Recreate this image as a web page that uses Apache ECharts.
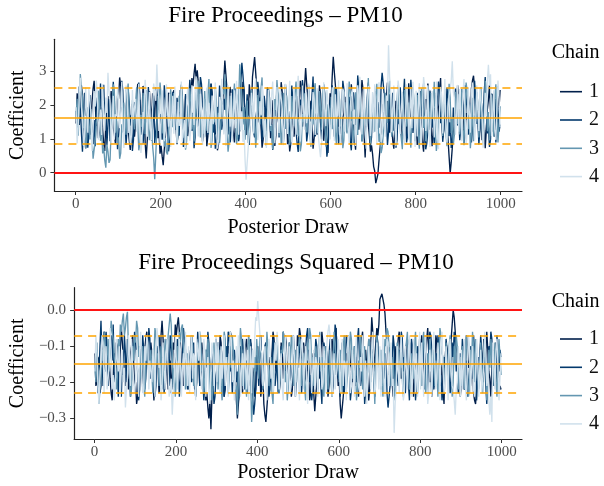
<!DOCTYPE html>
<html><head><meta charset="utf-8">
<script src="https://cdn.jsdelivr.net/npm/echarts@6/dist/echarts.min.js"></script>
<style>html,body{margin:0;padding:0;background:#fff}#c{width:604px;height:486px}</style>
</head><body><div id="c"></div>
<script>
// Posterior draw positions of the plotted samples (every 2.5 draws of 1000)
const draws = Array.from({length:400},(_,i)=>1+2.5*i);
const chainNames = ['1','2','3','4'];
const chainColors = ['#011f4b','#03396c','#6497b1','#d1e1ec'];
const xTicks = [0,200,400,600,800,1000];
const topTicks = [0,1,2,3];
const sqTicks = [-0.3,-0.2,-0.1,0.0];
// reference lines: [lower 95%, mean, upper 95%]
const topBands = [0.84,1.634,2.52];
const sqBands = [-0.226,-0.146,-0.067];
const zeroLine = 0;
const titles = ['Fire Proceedings \u2013 PM10','Fire Proceedings Squared \u2013 PM10'];

// ---- Fire Proceedings (linear term) ----
const c1Top = [1.45,2.34,2.12,1.41,1.63,2.58,2.31,1.52,1.18,0.72,0.91,1.36,1.74,1.12,1.38,2.09,2.48,2.71,2.06,1.38,1.57,1.02,1.21,1.78,1.92,1.26,0.88,0.64,1.49,1.97,2.26,1.58,1.71,2.41,2.02,1.33,1.14,0.86,1.66,2.27,
2.18,2.81,2.57,1.96,1.83,1.14,1.36,2.45,2.02,1.29,0.96,0.67,1.28,2.03,1.81,1.06,1.44,2.23,2.62,2.04,2.15,1.38,1.69,2.56,2.27,0.88,0.42,0.97,1.52,2.41,1.93,1.48,2.34,1.89,1.61,2.52,1.87,1.02,1.23,0.56,
0.79,0.48,0.22,0.69,1.05,1.67,1.58,2.36,2.11,1.45,1.72,2.09,2.44,1.83,1.36,0.84,1.15,1.62,1.84,2.58,2.19,1.21,1.47,2.27,1.96,1.08,1.33,1.87,2.14,2.79,2.55,2.92,3.21,2.74,3.02,2.66,2.31,1.37,1.64,0.92,
1.28,2.17,1.92,0.78,1.07,1.84,1.53,2.62,2.38,1.44,1.79,1.13,1.41,0.66,0.83,1.27,1.62,2.35,2.01,2.72,3.31,2.87,2.46,1.64,1.88,2.53,2.24,1.47,1.19,0.89,1.56,2.31,2.07,0.98,1.31,1.72,1.96,2.68,2.43,1.36,
1.11,2.05,1.68,2.61,2.29,1.94,2.83,3.12,3.41,2.96,2.52,1.48,1.73,2.22,1.38,0.74,0.97,1.56,1.91,1.23,1.54,2.47,2.21,1.02,1.26,2.14,1.83,0.79,1.09,2.28,1.62,1.37,2.04,2.67,2.38,1.18,1.45,2.35,1.98,0.84,
1.17,0.63,0.86,1.42,1.61,1.06,1.34,2.07,2.26,1.58,1.92,2.71,2.49,1.36,1.72,2.54,3.09,2.61,2.23,1.59,1.83,2.12,1.37,0.71,1.02,1.51,1.74,1.12,1.46,2.58,2.33,1.66,1.87,0.94,1.29,1.81,0.92,0.58,1.55,2.34,
2.12,2.83,3.42,2.97,2.58,2.18,1.95,1.36,1.58,0.87,1.13,1.62,1.76,2.24,1.41,1.93,2.28,1.49,1.84,2.61,2.17,1.34,0.99,0.68,1.52,1.96,1.27,1.71,2.11,2.73,2.46,1.12,0.45,1.24,1.93,1.42,1.08,0.62,0.81,0.55,
0.18,0.05,-0.31,-0.18,-0.04,0.35,0.72,1.04,1.26,2.02,1.81,1.43,2.24,2.66,1.52,1.18,1.92,1.37,0.94,0.71,1.39,2.12,1.75,2.54,2.37,1.89,1.63,0.96,1.21,2.33,1.97,1.07,1.48,2.64,2.09,1.63,2.51,2.19,1.78,1.24,
1.55,0.82,1.16,1.74,2.03,1.39,0.89,0.62,1.34,2.17,1.86,2.63,2.31,1.27,1.64,0.78,1.07,1.91,1.45,2.36,2.01,1.62,2.42,2.79,1.71,1.04,1.26,2.08,1.88,1.43,0.98,0.47,-0.02,0.31,0.74,1.15,1.38,2.07,1.83,2.58,
2.26,1.82,1.59,2.41,1.89,0.87,1.11,1.76,1.57,2.29,2.04,1.61,2.49,2.72,2.86,2.47,2.18,1.53,1.85,1.02,1.33,2.06,0.96,1.38,1.64,0.72,1.24,1.87,2.15,2.58,1.78,1.21,2.31,1.67,1.06,2.18,1.49,2.55,1.92,2.44];
const c2Top = [1.82,1.37,1.24,2.54,2.01,1.18,0.62,1.47,2.36,1.68,1.93,0.74,1.12,2.29,1.68,1.21,0.84,1.55,0.78,1.86,2.22,1.43,1.79,2.63,1.35,1.92,2.59,1.62,1.98,0.81,1.41,2.17,0.93,1.49,1.76,2.68,2.14,1.07,1.52,0.69,
1.09,1.58,1.86,2.71,2.42,1.27,1.65,0.82,1.28,2.46,2.07,1.39,1.71,0.64,0.97,2.08,1.43,1.92,1.88,2.66,2.31,1.12,1.54,0.86,1.17,2.37,1.96,1.48,2.53,2.12,1.82,0.94,1.36,2.28,0.88,1.21,1.61,2.47,2.09,1.33,
1.73,0.97,1.34,2.58,2.26,1.84,1.49,0.63,0.91,1.24,1.58,2.39,2.03,1.52,1.26,2.21,1.87,1.09,2.44,2.07,1.66,0.76,1.18,2.32,1.92,1.41,1.39,2.74,2.35,1.23,1.77,0.72,1.05,2.13,1.64,1.36,2.17,2.82,2.61,1.97,
1.84,1.06,1.42,2.24,1.13,1.71,1.96,2.63,2.27,1.18,1.53,0.71,0.98,1.94,1.71,2.57,2.12,1.27,1.46,2.18,1.85,2.71,2.38,1.13,1.69,0.89,1.22,2.46,1.93,1.56,2.48,2.02,1.81,0.93,1.35,2.64,3.24,2.88,2.42,1.58,
1.76,2.31,1.29,0.82,2.05,2.44,1.62,1.21,1.04,1.57,1.83,2.68,2.39,1.49,1.71,0.96,1.26,2.27,1.95,1.38,2.52,2.09,1.88,1.19,1.43,0.67,0.94,1.88,1.67,2.53,2.18,1.04,1.54,2.36,1.97,0.88,1.31,2.61,2.23,1.46,
1.81,1.04,1.36,2.57,2.12,1.73,1.58,1.22,0.87,0.61,1.44,2.16,1.99,2.73,2.41,1.36,1.73,0.92,1.19,2.42,1.88,1.51,2.29,2.84,1.64,1.07,1.21,1.68,2.03,2.39,1.51,0.98,1.76,2.61,2.34,1.27,0.47,0.72,1.28,2.14,
1.92,2.58,1.45,1.06,2.18,2.49,1.69,0.84,1.12,1.47,1.83,2.71,2.46,1.63,1.94,1.19,1.37,2.24,0.92,0.66,1.56,2.37,2.08,1.41,1.73,2.87,2.51,2.12,1.86,0.93,1.29,2.03,1.64,1.18,2.21,2.66,1.48,0.79,1.05,1.87,
1.61,2.41,2.14,1.29,1.77,2.08,1.33,2.56,2.95,2.63,2.28,1.47,1.69,0.82,1.18,2.31,1.84,1.96,2.36,1.24,1.52,0.74,0.97,1.86,1.43,2.52,1.96,1.31,2.24,2.77,1.58,0.89,1.11,1.58,1.87,2.74,2.32,1.17,1.66,0.93,
1.23,2.36,1.78,1.09,2.41,1.67,1.92,2.63,1.37,0.69,0.86,1.21,1.54,2.42,2.07,1.33,1.68,0.87,1.14,2.28,1.95,2.69,2.46,1.46,1.81,0.91,1.28,2.19,1.72,2.51,2.19,1.08,1.49,0.73,1.02,1.92,1.63,2.48,2.11,1.39,
1.74,0.96,1.31,2.47,2.03,1.62,2.58,2.21,1.86,1.12,1.42,2.06,0.89,1.28,1.57,2.71,2.13,1.44,1.69,0.83,1.25,2.19,1.84,1.51,2.37,2.82,1.93,1.16,1.38,0.76,0.99,2.34,1.62,1.41,2.06,0.89,1.47,1.94,1.21,1.42];
const c3Top = [1.71,2.18,1.09,1.92,2.91,2.47,2.23,1.31,1.56,0.72,0.97,1.86,1.42,0.98,1.88,1.06,0.41,0.69,0.92,1.48,1.63,2.42,2.17,0.94,1.35,0.57,0.74,0.36,0.15,0.83,0.62,0.29,0.38,1.27,1.94,2.61,2.38,1.18,1.61,0.84,
1.04,0.41,0.58,1.43,1.19,2.07,1.84,1.12,2.29,2.63,1.73,0.91,1.16,2.14,1.57,1.28,2.06,2.52,1.48,0.66,0.87,1.71,1.35,2.36,1.92,1.14,2.44,2.08,1.68,0.96,1.22,1.59,0.79,0.44,-0.19,0.52,1.31,2.27,1.86,2.66,
2.27,1.16,1.59,0.77,1.03,0.61,0.54,1.12,1.41,2.46,1.97,1.34,2.35,1.88,1.62,0.86,1.18,2.27,1.79,2.61,2.24,1.03,1.46,0.68,0.93,1.94,1.51,2.49,2.08,1.28,1.74,0.92,1.26,2.37,1.89,2.72,2.41,1.04,1.67,1.46,
1.15,2.41,1.83,1.24,2.32,2.76,1.54,0.73,0.96,1.87,1.48,2.53,2.11,1.19,1.77,0.88,1.29,2.04,2.45,2.31,2.90,1.87,1.31,0.62,0.91,2.27,1.65,1.36,2.19,2.63,1.58,0.85,1.07,2.12,3.20,2.71,2.27,1.42,1.94,0.97,
1.46,2.13,0.88,1.31,1.52,2.44,2.06,1.16,1.63,0.74,1.17,2.29,1.94,1.42,2.49,2.81,1.78,1.07,1.24,0.79,1.69,2.48,2.15,1.23,1.41,0.69,0.98,2.17,1.85,2.73,2.32,1.09,1.66,0.83,1.21,2.36,1.75,1.29,2.28,1.57,
1.62,0.81,1.14,2.26,1.79,1.37,2.37,2.69,1.83,1.08,1.26,0.63,0.84,1.73,1.49,2.34,2.02,1.19,1.57,2.57,1.12,0.76,1.86,1.42,2.43,2.64,1.78,1.17,1.33,2.41,1.95,1.27,2.21,2.58,1.54,0.77,1.09,2.02,1.68,1.21,
2.24,1.28,1.71,2.52,1.19,0.83,1.65,2.41,2.13,1.36,1.58,0.72,0.96,2.08,1.47,1.16,1.93,2.69,2.39,1.52,1.81,0.88,1.24,2.37,1.76,1.11,2.28,2.59,1.63,0.92,1.09,2.24,1.52,1.38,2.05,2.79,1.59,0.86,1.32,2.04,
1.87,1.21,2.33,2.62,1.68,0.91,1.15,0.58,0.73,1.12,1.39,2.36,1.98,1.47,2.41,2.71,1.79,1.06,1.28,2.18,1.64,0.82,2.16,2.58,1.55,1.27,1.02,0.69,1.81,2.44,2.29,1.36,1.72,2.07,1.19,0.74,1.66,2.51,2.12,1.19,
1.54,2.29,1.07,0.71,1.73,2.48,2.26,1.32,1.68,0.93,1.21,2.56,1.89,1.26,2.35,1.58,1.77,2.68,1.33,0.64,0.88,1.41,1.46,2.33,2.02,1.08,1.61,2.47,1.18,0.78,1.74,2.62,2.21,1.17,1.65,0.84,1.12,2.39,1.79,1.44,
2.31,1.13,1.76,2.47,1.27,0.81,1.83,2.66,2.39,1.28,1.71,0.72,1.16,2.21,0.93,1.69,1.52,2.38,2.07,1.04,1.64,2.53,1.23,0.87,1.86,2.71,2.44,1.22,1.79,0.95,1.35,2.29,1.72,1.06,2.18,2.61,1.58,0.89,1.41,1.96];
const c4Top = [1.93,0.86,1.38,2.36,2.80,1.94,1.67,0.79,1.06,2.52,1.81,1.18,2.47,2.13,1.72,0.64,1.29,2.41,1.95,2.72,2.36,0.97,1.54,1.86,1.11,2.61,1.78,1.24,2.22,1.76,2.95,2.38,2.12,0.84,1.43,2.27,0.97,1.72,1.66,2.49,
2.21,1.31,1.74,2.68,1.26,0.73,1.89,2.57,2.43,1.17,1.61,0.81,1.08,2.44,1.57,1.92,2.18,1.21,1.83,2.62,1.35,0.58,0.92,1.79,1.64,2.74,2.29,1.06,1.77,2.39,1.32,0.95,1.86,2.63,2.41,2.12,3.19,2.48,2.15,0.87,
1.52,2.43,1.87,0.93,1.24,2.61,1.79,1.36,2.32,0.76,1.69,2.27,1.15,2.54,1.62,0.88,2.09,1.38,1.48,2.69,0.91,1.23,1.56,0.72,2.13,2.47,1.74,0.94,1.28,2.58,1.91,1.41,2.38,2.84,1.83,1.07,1.37,2.33,1.71,0.82,
2.19,1.04,1.64,2.51,1.17,2.06,1.72,0.84,2.28,1.43,1.86,2.66,1.33,0.71,0.96,2.24,1.58,2.77,2.11,1.13,1.67,0.79,1.22,2.58,1.84,1.36,2.36,0.92,1.75,2.43,1.31,2.71,1.93,1.12,2.47,1.26,1.81,0.91,1.26,0.38,
-0.21,0.31,0.74,1.21,1.42,2.36,1.97,1.16,2.41,2.78,1.78,0.96,1.25,2.11,1.69,2.57,2.16,1.04,1.59,0.73,1.09,2.44,1.73,1.38,2.27,2.69,1.82,0.87,1.36,2.53,1.94,1.17,2.52,2.21,1.88,0.81,1.43,2.62,1.76,1.14,
2.08,2.71,1.55,0.89,1.13,2.47,1.67,1.12,2.24,2.86,1.79,0.92,1.32,2.57,1.91,1.27,2.38,1.46,1.74,2.63,1.21,0.83,1.63,2.38,2.17,1.11,1.58,2.49,1.06,0.74,0.46,0.88,1.35,2.67,1.92,1.37,2.44,2.13,1.83,0.98,
1.38,2.52,1.76,0.94,2.31,1.62,1.69,2.73,1.14,0.81,1.82,2.48,2.36,1.21,1.71,2.64,1.27,0.87,1.95,2.31,2.48,1.42,1.86,0.79,1.32,2.58,1.61,2.83,2.19,1.13,1.73,2.47,1.25,0.71,1.88,2.56,2.34,1.08,1.66,2.38,
1.18,2.61,1.79,0.84,2.25,2.67,1.63,0.91,1.09,2.34,1.72,1.06,2.28,2.12,3.76,2.83,2.41,1.19,1.84,2.57,1.36,0.78,1.93,2.72,2.47,1.14,1.81,2.39,1.29,0.86,1.68,2.61,2.21,0.97,1.74,2.53,1.31,2.68,1.89,0.76,
2.42,1.07,1.86,2.64,1.39,0.82,1.95,2.82,2.51,1.23,1.77,2.58,1.24,0.76,1.69,2.41,2.13,1.04,1.58,2.69,1.12,0.69,1.74,2.53,2.29,1.16,1.85,2.76,1.33,0.89,1.91,2.28,2.46,2.71,3.29,2.37,2.21,1.12,1.67,2.59,
1.21,2.47,1.78,0.93,2.34,2.76,1.71,0.85,1.16,2.51,1.83,1.18,2.39,2.66,1.84,0.96,1.36,2.58,1.92,1.23,2.48,2.13,1.79,0.74,1.27,2.36,1.65,2.71,3.18,2.57,2.90,1.08,1.69,2.43,1.24,0.97,1.81,2.72,2.16,1.35];

// ---- Fire Proceedings Squared ----
const c1Sq = [-0.12,-0.21,-0.20,-0.13,-0.14,-0.23,-0.21,-0.14,-0.09,-0.06,-0.07,-0.12,-0.16,-0.10,-0.13,-0.19,-0.23,-0.25,-0.18,-0.12,-0.15,-0.09,-0.10,-0.16,-0.17,-0.11,-0.05,-0.05,-0.13,-0.18,-0.21,-0.14,-0.15,-0.22,-0.19,-0.12,-0.10,-0.07,-0.14,-0.21,
-0.20,-0.26,-0.24,-0.18,-0.16,-0.10,-0.12,-0.22,-0.19,-0.11,-0.08,-0.06,-0.11,-0.18,-0.17,-0.09,-0.12,-0.20,-0.25,-0.19,-0.19,-0.12,-0.15,-0.23,-0.21,-0.07,-0.03,-0.08,-0.14,-0.22,-0.17,-0.13,-0.22,-0.17,-0.14,-0.23,-0.17,-0.09,-0.11,-0.04,
-0.07,-0.04,-0.02,-0.06,-0.09,-0.15,-0.14,-0.21,-0.19,-0.13,-0.15,-0.19,-0.22,-0.17,-0.12,-0.07,-0.10,-0.14,-0.17,-0.24,-0.20,-0.11,-0.13,-0.21,-0.18,-0.09,-0.12,-0.17,-0.19,-0.25,-0.23,-0.27,-0.30,-0.25,-0.33,-0.24,-0.21,-0.12,-0.15,-0.08,
-0.11,-0.20,-0.17,-0.07,-0.09,-0.17,-0.14,-0.24,-0.22,-0.13,-0.16,-0.10,-0.12,-0.06,-0.07,-0.11,-0.15,-0.21,-0.18,-0.25,-0.30,-0.26,-0.22,-0.15,-0.17,-0.23,-0.20,-0.13,-0.10,-0.08,-0.14,-0.21,-0.19,-0.09,-0.11,-0.16,-0.18,-0.24,-0.22,-0.12,
-0.10,-0.19,-0.15,-0.24,-0.21,-0.18,-0.26,-0.29,-0.31,-0.27,-0.23,-0.13,-0.16,-0.20,-0.12,-0.06,-0.08,-0.14,-0.17,-0.11,-0.14,-0.23,-0.20,-0.09,-0.11,-0.19,-0.16,-0.07,-0.09,-0.21,-0.15,-0.12,-0.18,-0.24,-0.22,-0.10,-0.13,-0.21,-0.18,-0.07,
-0.10,-0.05,-0.07,-0.13,-0.14,-0.09,-0.12,-0.19,-0.20,-0.14,-0.17,-0.25,-0.23,-0.12,-0.15,-0.23,-0.28,-0.24,-0.20,-0.14,-0.16,-0.19,-0.12,-0.06,-0.09,-0.14,-0.16,-0.10,-0.13,-0.24,-0.21,-0.15,-0.17,-0.08,-0.11,-0.16,-0.08,-0.05,-0.14,-0.21,
-0.19,-0.26,-0.30,-0.27,-0.24,-0.20,-0.17,-0.12,-0.14,-0.07,-0.10,-0.15,-0.16,-0.20,-0.12,-0.17,-0.21,-0.13,-0.16,-0.24,-0.20,-0.12,-0.08,-0.06,-0.14,-0.18,-0.11,-0.15,-0.19,-0.25,-0.22,-0.10,-0.02,-0.06,-0.17,-0.13,-0.09,-0.05,-0.07,-0.04,
0.03,0.035,0.045,0.04,0.015,-0.01,-0.06,-0.09,-0.11,-0.18,-0.16,-0.13,-0.20,-0.24,-0.14,-0.10,-0.17,-0.12,-0.08,-0.06,-0.12,-0.19,-0.16,-0.23,-0.21,-0.17,-0.15,-0.08,-0.10,-0.21,-0.18,-0.09,-0.13,-0.24,-0.19,-0.15,-0.23,-0.20,-0.16,-0.11,
-0.14,-0.07,-0.10,-0.16,-0.18,-0.12,-0.08,-0.05,-0.12,-0.20,-0.17,-0.24,-0.21,-0.11,-0.15,-0.07,-0.09,-0.17,-0.13,-0.21,-0.18,-0.15,-0.22,-0.26,-0.15,-0.09,-0.11,-0.19,-0.17,-0.13,-0.08,-0.04,0.00,-0.02,-0.06,-0.10,-0.12,-0.19,-0.16,-0.24,
-0.20,-0.16,-0.14,-0.22,-0.17,-0.07,-0.10,-0.16,-0.14,-0.21,-0.18,-0.14,-0.23,-0.25,-0.26,-0.22,-0.20,-0.14,-0.17,-0.09,-0.12,-0.19,-0.08,-0.12,-0.15,-0.06,-0.11,-0.17,-0.19,-0.24,-0.16,-0.11,-0.21,-0.15,-0.09,-0.20,-0.13,-0.23,-0.21,-0.22];
const c2Sq = [-0.16,-0.12,-0.11,-0.23,-0.18,-0.10,-0.03,-0.13,-0.21,-0.15,-0.17,-0.06,-0.10,-0.21,-0.15,-0.10,-0.07,-0.14,-0.04,-0.17,-0.20,-0.13,-0.16,-0.24,-0.12,-0.17,-0.24,-0.14,-0.18,-0.07,-0.12,-0.20,-0.08,-0.13,-0.16,-0.24,-0.19,-0.09,-0.14,-0.06,
-0.09,-0.14,-0.17,-0.25,-0.22,-0.11,-0.15,-0.07,-0.11,-0.22,-0.19,-0.12,-0.15,-0.05,-0.08,-0.19,-0.13,-0.17,-0.17,-0.24,-0.21,-0.10,-0.14,-0.07,-0.10,-0.22,-0.18,-0.13,-0.23,-0.19,-0.16,-0.08,-0.12,-0.21,-0.07,-0.10,-0.14,-0.22,-0.19,-0.12,
-0.15,-0.08,-0.12,-0.24,-0.20,-0.16,-0.13,-0.05,-0.08,-0.11,-0.14,-0.22,-0.18,-0.14,-0.11,-0.20,-0.17,-0.09,-0.22,-0.19,-0.15,-0.06,-0.10,-0.21,-0.17,-0.12,-0.12,-0.25,-0.21,-0.11,-0.16,-0.06,-0.09,-0.19,-0.15,-0.12,-0.20,-0.26,-0.24,-0.18,
-0.16,-0.09,-0.12,-0.20,-0.10,-0.15,-0.18,-0.24,-0.20,-0.10,-0.14,-0.06,-0.08,-0.17,-0.15,-0.23,-0.19,-0.11,-0.13,-0.20,-0.17,-0.25,-0.22,-0.10,-0.15,-0.08,-0.11,-0.22,-0.17,-0.14,-0.23,-0.18,-0.16,-0.08,-0.12,-0.24,-0.29,-0.26,-0.22,-0.14,
-0.16,-0.21,-0.11,-0.07,-0.18,-0.22,-0.14,-0.10,-0.09,-0.14,-0.16,-0.24,-0.22,-0.13,-0.15,-0.08,-0.11,-0.21,-0.18,-0.12,-0.23,-0.19,-0.17,-0.10,-0.13,-0.06,-0.08,-0.17,-0.15,-0.23,-0.20,-0.09,-0.14,-0.21,-0.18,-0.07,-0.12,-0.24,-0.20,-0.13,
-0.16,-0.09,-0.12,-0.23,-0.19,-0.15,-0.14,-0.11,-0.07,-0.05,-0.13,-0.20,-0.18,-0.25,-0.22,-0.12,-0.15,-0.08,-0.10,-0.22,-0.17,-0.13,-0.21,-0.26,-0.15,-0.09,-0.11,-0.15,-0.18,-0.22,-0.13,-0.08,-0.16,-0.24,-0.21,-0.11,-0.04,-0.06,-0.11,-0.19,
-0.17,-0.24,-0.13,-0.09,-0.20,-0.23,-0.15,-0.07,-0.10,-0.13,-0.16,-0.25,-0.22,-0.14,-0.17,-0.10,-0.12,-0.20,-0.08,-0.05,-0.14,-0.21,-0.19,-0.12,-0.15,-0.26,-0.23,-0.19,-0.17,-0.08,-0.11,-0.18,-0.15,-0.10,-0.20,-0.24,-0.13,-0.07,-0.09,-0.17,
-0.14,-0.22,-0.19,-0.11,-0.16,-0.19,-0.12,-0.23,-0.27,-0.24,-0.21,-0.13,-0.15,-0.07,-0.10,-0.21,-0.16,-0.18,-0.21,-0.11,-0.14,-0.06,-0.08,-0.17,-0.13,-0.23,-0.18,-0.11,-0.20,-0.25,-0.14,-0.08,-0.10,-0.14,-0.17,-0.25,-0.21,-0.10,-0.15,-0.08,
-0.11,-0.21,-0.16,-0.09,-0.22,-0.15,-0.17,-0.24,-0.12,-0.06,-0.07,-0.11,-0.14,-0.22,-0.19,-0.12,-0.15,-0.07,-0.10,-0.21,-0.18,-0.25,-0.22,-0.13,-0.16,-0.08,-0.11,-0.20,-0.15,-0.23,-0.20,-0.09,-0.13,-0.06,-0.09,-0.17,-0.15,-0.23,-0.19,-0.12,
-0.16,-0.08,-0.11,-0.22,-0.18,-0.14,-0.24,-0.20,-0.17,-0.10,-0.13,-0.19,-0.07,-0.11,-0.14,-0.25,-0.19,-0.13,-0.15,-0.07,-0.11,-0.20,-0.16,-0.13,-0.21,-0.26,-0.17,-0.10,-0.12,-0.06,-0.08,-0.21,-0.15,-0.12,-0.19,-0.07,-0.13,-0.17,-0.11,-0.13];
const c3Sq = [-0.15,-0.20,-0.09,-0.17,-0.26,-0.22,-0.20,-0.11,-0.14,-0.06,-0.08,-0.17,-0.13,-0.08,-0.17,-0.09,-0.03,-0.06,-0.08,-0.13,-0.15,-0.22,-0.19,-0.08,-0.12,-0.04,-0.06,-0.03,-0.01,-0.07,-0.05,-0.02,-0.005,-0.11,-0.17,-0.24,-0.22,-0.10,-0.14,-0.07,
-0.09,-0.03,-0.05,-0.13,-0.10,-0.19,-0.16,-0.10,-0.21,-0.24,-0.15,-0.08,-0.10,-0.19,-0.14,-0.11,-0.18,-0.23,-0.13,-0.05,-0.07,-0.15,-0.12,-0.21,-0.17,-0.10,-0.22,-0.19,-0.15,-0.08,-0.11,-0.14,-0.07,-0.04,-0.01,-0.04,-0.12,-0.21,-0.16,-0.24,
-0.20,-0.10,-0.14,-0.06,-0.09,-0.05,-0.04,-0.10,-0.13,-0.22,-0.18,-0.12,-0.21,-0.17,-0.14,-0.07,-0.10,-0.21,-0.16,-0.24,-0.20,-0.09,-0.13,-0.06,-0.08,-0.17,-0.14,-0.23,-0.19,-0.11,-0.15,-0.08,-0.11,-0.22,-0.17,-0.25,-0.22,-0.09,-0.15,-0.13,
-0.10,-0.22,-0.16,-0.11,-0.21,-0.25,-0.14,-0.06,-0.08,-0.17,-0.13,-0.23,-0.19,-0.10,-0.16,-0.07,-0.11,-0.18,-0.22,-0.21,-0.29,-0.17,-0.12,-0.05,-0.08,-0.21,-0.15,-0.12,-0.20,-0.24,-0.14,-0.07,-0.09,-0.19,-0.31,-0.25,-0.21,-0.13,-0.17,-0.08,
-0.13,-0.19,-0.07,-0.12,-0.14,-0.22,-0.19,-0.10,-0.15,-0.06,-0.10,-0.21,-0.17,-0.13,-0.23,-0.26,-0.16,-0.09,-0.11,-0.07,-0.15,-0.23,-0.19,-0.11,-0.12,-0.06,-0.08,-0.20,-0.17,-0.25,-0.21,-0.09,-0.15,-0.07,-0.10,-0.21,-0.16,-0.11,-0.20,-0.14,
-0.14,-0.07,-0.10,-0.21,-0.16,-0.12,-0.21,-0.25,-0.16,-0.09,-0.11,-0.05,-0.07,-0.15,-0.13,-0.21,-0.18,-0.10,-0.14,-0.23,-0.10,-0.06,-0.17,-0.13,-0.22,-0.24,-0.16,-0.10,-0.12,-0.22,-0.18,-0.11,-0.20,-0.24,-0.14,-0.06,-0.09,-0.18,-0.15,-0.11,
-0.20,-0.11,-0.15,-0.23,-0.10,-0.07,-0.15,-0.22,-0.19,-0.12,-0.14,-0.06,-0.08,-0.19,-0.13,-0.10,-0.17,-0.25,-0.22,-0.14,-0.16,-0.07,-0.11,-0.22,-0.16,-0.10,-0.21,-0.24,-0.14,-0.08,-0.09,-0.20,-0.14,-0.12,-0.18,-0.26,-0.14,-0.07,-0.12,-0.19,
-0.17,-0.11,-0.21,-0.24,-0.15,-0.08,-0.10,-0.05,-0.06,-0.10,-0.12,-0.21,-0.18,-0.13,-0.22,-0.25,-0.16,-0.09,-0.11,-0.20,-0.15,-0.07,-0.19,-0.24,-0.14,-0.11,-0.09,-0.06,-0.16,-0.22,-0.21,-0.12,-0.15,-0.19,-0.10,-0.06,-0.15,-0.23,-0.19,-0.10,
-0.14,-0.21,-0.09,-0.06,-0.15,-0.23,-0.20,-0.12,-0.15,-0.08,-0.11,-0.23,-0.17,-0.11,-0.21,-0.14,-0.16,-0.24,-0.12,-0.05,-0.07,-0.12,-0.13,-0.21,-0.18,-0.09,-0.14,-0.22,-0.10,-0.07,-0.16,-0.24,-0.20,-0.10,-0.15,-0.07,-0.10,-0.22,-0.16,-0.13,
-0.21,-0.10,-0.16,-0.22,-0.11,-0.07,-0.16,-0.24,-0.22,-0.11,-0.15,-0.06,-0.10,-0.20,-0.08,-0.15,-0.14,-0.22,-0.19,-0.09,-0.15,-0.23,-0.11,-0.07,-0.17,-0.25,-0.22,-0.11,-0.16,-0.08,-0.12,-0.21,-0.15,-0.09,-0.20,-0.24,-0.14,-0.08,-0.13,-0.18];
const c4Sq = [-0.17,-0.07,-0.12,-0.21,-0.26,-0.17,-0.15,-0.07,-0.09,-0.23,-0.16,-0.10,-0.22,-0.19,-0.15,-0.05,-0.11,-0.22,-0.18,-0.25,-0.21,-0.08,-0.14,-0.17,-0.10,-0.24,-0.16,-0.11,-0.20,-0.16,-0.27,-0.22,-0.19,-0.07,-0.13,-0.21,-0.08,-0.15,-0.15,-0.23,
-0.20,-0.11,-0.16,-0.24,-0.11,-0.06,-0.17,-0.23,-0.22,-0.10,-0.14,-0.07,-0.09,-0.22,-0.14,-0.17,-0.20,-0.11,-0.16,-0.24,-0.12,-0.05,-0.08,-0.16,-0.15,-0.25,-0.21,-0.09,-0.16,-0.22,-0.12,-0.08,-0.17,-0.24,-0.22,-0.19,-0.29,-0.23,-0.19,-0.07,
-0.14,-0.22,-0.17,-0.08,-0.11,-0.24,-0.16,-0.12,-0.21,-0.06,-0.15,-0.21,-0.10,-0.23,-0.14,-0.07,-0.19,-0.12,-0.13,-0.25,-0.08,-0.11,-0.14,-0.06,-0.19,-0.22,-0.16,-0.08,-0.11,-0.24,-0.17,-0.13,-0.22,-0.26,-0.16,-0.09,-0.12,-0.21,-0.15,-0.07,
-0.20,-0.09,-0.15,-0.23,-0.10,-0.19,-0.15,-0.07,-0.21,-0.13,-0.17,-0.24,-0.12,-0.06,-0.08,-0.20,-0.14,-0.25,-0.19,-0.10,-0.15,-0.07,-0.11,-0.24,-0.16,-0.12,-0.22,-0.08,-0.16,-0.22,-0.11,-0.25,-0.17,-0.10,-0.23,-0.11,-0.16,-0.08,-0.02,-0.03,
0.025,-0.02,-0.06,-0.11,-0.12,-0.21,-0.18,-0.10,-0.22,-0.25,-0.16,-0.08,-0.11,-0.19,-0.15,-0.23,-0.19,-0.09,-0.14,-0.06,-0.10,-0.22,-0.15,-0.12,-0.21,-0.25,-0.16,-0.07,-0.12,-0.23,-0.17,-0.10,-0.23,-0.20,-0.17,-0.07,-0.13,-0.24,-0.16,-0.10,
-0.19,-0.25,-0.14,-0.08,-0.10,-0.22,-0.15,-0.10,-0.20,-0.26,-0.16,-0.08,-0.12,-0.23,-0.17,-0.11,-0.22,-0.13,-0.15,-0.24,-0.11,-0.07,-0.14,-0.22,-0.20,-0.10,-0.14,-0.23,-0.09,-0.06,-0.04,-0.07,-0.12,-0.24,-0.17,-0.12,-0.22,-0.19,-0.16,-0.08,
-0.12,-0.23,-0.16,-0.08,-0.21,-0.14,-0.15,-0.25,-0.10,-0.07,-0.16,-0.23,-0.21,-0.11,-0.15,-0.24,-0.11,-0.07,-0.18,-0.21,-0.23,-0.13,-0.17,-0.07,-0.12,-0.24,-0.14,-0.26,-0.20,-0.10,-0.15,-0.22,-0.11,-0.06,-0.17,-0.23,-0.21,-0.09,-0.15,-0.22,
-0.10,-0.24,-0.16,-0.07,-0.20,-0.24,-0.14,-0.08,-0.09,-0.21,-0.15,-0.09,-0.21,-0.19,-0.34,-0.26,-0.22,-0.10,-0.16,-0.23,-0.12,-0.07,-0.17,-0.25,-0.23,-0.10,-0.16,-0.22,-0.11,-0.07,-0.15,-0.24,-0.20,-0.08,-0.15,-0.23,-0.12,-0.24,-0.17,-0.06,
-0.22,-0.09,-0.17,-0.24,-0.12,-0.07,-0.18,-0.26,-0.23,-0.11,-0.16,-0.24,-0.11,-0.06,-0.15,-0.22,-0.19,-0.09,-0.14,-0.25,-0.10,-0.06,-0.16,-0.23,-0.21,-0.10,-0.17,-0.25,-0.12,-0.08,-0.17,-0.21,-0.22,-0.25,-0.29,-0.22,-0.20,-0.10,-0.15,-0.24,
-0.11,-0.22,-0.16,-0.08,-0.21,-0.25,-0.15,-0.07,-0.10,-0.23,-0.16,-0.10,-0.22,-0.24,-0.17,-0.08,-0.12,-0.24,-0.17,-0.11,-0.23,-0.19,-0.16,-0.06,-0.11,-0.21,-0.15,-0.25,-0.29,-0.24,-0.31,-0.09,-0.15,-0.22,-0.11,-0.08,-0.16,-0.25,-0.19,-0.12];

const topChains = [c1Top,c2Top,c3Top,c4Top];
const sqChains = [c1Sq,c2Sq,c3Sq,c4Sq];

const FONT = 'Liberation Serif';
const chart = echarts.init(document.getElementById('c'), null, {renderer:'canvas'});

function chainSeries(p, chains){
  return chains.map((vals,c)=>({
    type:'line', name:chainNames[c], xAxisIndex:p, yAxisIndex:p,
    data: vals.map((v,i)=>[draws[i], v]),
    symbol:'none', showSymbol:false, silent:true, animation:false,
    color: chainColors[c],
    itemStyle:{color:chainColors[c]},
    lineStyle:{color:chainColors[c], width:1.35},
    z: 2
  }));
}
function refSeries(p, bands){
  const dash = {color:'#ffa500', width:1.5, type:[8,6]};
  return {
    type:'line', name:'ref'+p, xAxisIndex:p, yAxisIndex:p, data:[], silent:true, animation:false, z:5,
    markLine:{silent:true, symbol:['none','none'], animation:false, label:{show:false},
      emphasis:{disabled:true},
      data:[
        {yAxis:zeroLine, lineStyle:{color:'#ff1414', width:1.8, type:'solid'}},
        {yAxis:bands[1], lineStyle:{color:'#ffa500', width:1.5, type:'solid'}},
        {yAxis:bands[0], lineStyle:dash},
        {yAxis:bands[2], lineStyle:dash}
      ]}
  };
}
function xAx(p, gap){
  return {gridIndex:p, type:'value', min:-50, max:1050,
    axisLine:{show:true, onZero:false, lineStyle:{color:'#222', width:1.2}},
    axisTick:{show:true, customValues:xTicks, length:4, lineStyle:{color:'#333', width:1}},
    axisLabel:{customValues:xTicks, color:'#4d4d4d', fontFamily:FONT, fontSize:15, margin:6, formatter:v=>String(v)},
    splitLine:{show:false},
    name:'Posterior Draw', nameLocation:'middle', nameGap:gap,
    nameTextStyle:{fontFamily:FONT, fontSize:20, color:'#000'}};
}
function yAx(p, min, max, ticks, fmt, gap){
  return {gridIndex:p, type:'value', min:min, max:max,
    axisLine:{show:true, onZero:false, lineStyle:{color:'#222', width:1.2}},
    axisTick:{show:true, customValues:ticks, length:4, lineStyle:{color:'#333', width:1}},
    axisLabel:{customValues:ticks, color:'#4d4d4d', fontFamily:FONT, fontSize:15, margin:8, formatter:fmt},
    splitLine:{show:false},
    name:'Coefficient', nameLocation:'middle', nameGap:gap, nameRotate:90,
    nameTextStyle:{fontFamily:FONT, fontSize:20, color:'#000'}};
}
const fmtTop = v => String(Math.round(v));
const fmtSq = v => (v < -1e-9 ? '\u2212' : '') + Math.abs(v).toFixed(1);

function legendAt(top){
  return {data:chainNames, orient:'vertical', left:555, top:top, icon:'rect',
    itemWidth:22, itemHeight:1.6, itemGap:8.3, selectedMode:false,
    textStyle:{fontFamily:FONT, fontSize:20, color:'#111', lineHeight:20, padding:[0,0,0,2]}};
}

chart.setOption({
  animation:false,
  backgroundColor:'#fff',
  grid:[
    {left:48.5, right:82, top:39.3, height:151.7},
    {left:70, right:82, top:287.7, height:151.3}
  ],
  xAxis:[xAx(0,27), xAx(1,24)],
  yAxis:[yAx(0,-0.54,3.935,topTicks,fmtTop,23), yAx(1,-0.357,0.0618,sqTicks,fmtSq,44)],
  legend:[legendAt(76.7), legendAt(324)],
  graphic:[
    {type:'text', x:285.5, y:16, style:{text:titles[0], fontFamily:FONT, fontSize:23, fill:'#000', align:'center', verticalAlign:'middle'}},
    {type:'text', x:296, y:263, style:{text:titles[1], fontFamily:FONT, fontSize:23, fill:'#000', align:'center', verticalAlign:'middle'}},
    {type:'text', x:551.7, y:53, style:{text:'Chain', fontFamily:FONT, fontSize:20, fill:'#000', align:'left', verticalAlign:'middle'}},
    {type:'text', x:551.7, y:302, style:{text:'Chain', fontFamily:FONT, fontSize:20, fill:'#000', align:'left', verticalAlign:'middle'}}
  ],
  series:[].concat(chainSeries(0, topChains), [refSeries(0, topBands)], chainSeries(1, sqChains), [refSeries(1, sqBands)])
});
</script></body></html>
